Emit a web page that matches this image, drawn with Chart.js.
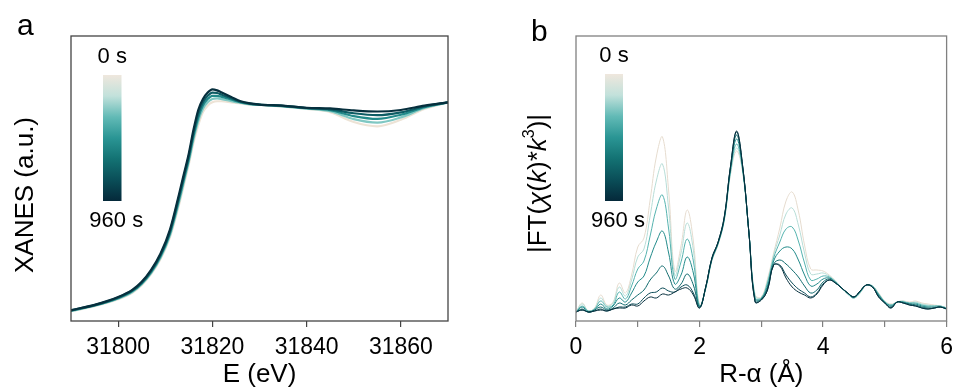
<!DOCTYPE html>
<html>
<head>
<meta charset="utf-8">
<script src="https://cdn.jsdelivr.net/npm/chart.js@4.4.1/dist/chart.umd.min.js"></script>
<style>
body{margin:0;background:#fff;width:960px;height:387px;overflow:hidden;position:relative;font-family:"Liberation Sans",Arial,sans-serif}
canvas{position:absolute;top:0}
#ca{left:0}
#cb{left:480px}
.lbl{position:absolute;font-size:30px;color:#000;line-height:1}
</style>
</head>
<body>
<canvas id="ca" width="480" height="387"></canvas>
<canvas id="cb" width="480" height="387"></canvas>
<div class="lbl" style="left:17px;top:10px">a</div>
<div class="lbl" style="left:531px;top:16px">b</div>
<script>
// legendas da barra de cor
var tempos = ['0 s', '960 s'];

// painel a - XANES
var energia = [31790, 31795, 31800, 31803, 31805, 31807, 31809, 31811, 31813, 31814, 31815, 31816, 31817, 31818, 31819,
    31820, 31821, 31822, 31824, 31826, 31828, 31830, 31835, 31840, 31845, 31850, 31855, 31860, 31865, 31870];
var xanes_0 = [0.045, 0.068, 0.100, 0.130, 0.165, 0.215, 0.285, 0.385, 0.540, 0.630, 0.720, 0.820, 0.900, 0.960, 0.990,
    1.005, 1.010, 1.010, 1.005, 1.000, 0.995, 0.993, 0.985, 0.975, 0.960, 0.915, 0.895, 0.925, 0.975, 1.005];
var xanes_240 = [0.046, 0.070, 0.103, 0.133, 0.169, 0.220, 0.291, 0.394, 0.553, 0.643, 0.733, 0.835, 0.918, 0.975, 1.005,
    1.020, 1.023, 1.020, 1.011, 1.003, 0.996, 0.994, 0.986, 0.976, 0.964, 0.928, 0.912, 0.936, 0.979, 1.005];
var xanes_480 = [0.048, 0.071, 0.105, 0.137, 0.173, 0.225, 0.298, 0.403, 0.565, 0.655, 0.745, 0.850, 0.935, 0.990, 1.020,
    1.035, 1.035, 1.030, 1.018, 1.005, 0.998, 0.994, 0.988, 0.978, 0.969, 0.942, 0.929, 0.948, 0.983, 1.005];
var xanes_720 = [0.049, 0.073, 0.108, 0.140, 0.176, 0.230, 0.304, 0.411, 0.578, 0.668, 0.758, 0.865, 0.953, 1.005, 1.035,
    1.050, 1.048, 1.040, 1.024, 1.008, 0.999, 0.995, 0.989, 0.979, 0.973, 0.955, 0.946, 0.959, 0.986, 1.005];
var xanes_960 = [0.050, 0.074, 0.110, 0.143, 0.180, 0.235, 0.310, 0.420, 0.590, 0.680, 0.770, 0.880, 0.970, 1.020, 1.050,
    1.065, 1.060, 1.050, 1.030, 1.010, 1.000, 0.995, 0.990, 0.980, 0.977, 0.968, 0.963, 0.970, 0.990, 1.005];
var ticks_e = [31800, 31820, 31840, 31860];

// painel b - FT
var raio = [0.0, 0.1, 0.2, 0.3, 0.4, 0.5, 0.6, 0.7, 0.8, 0.9,
    1.0, 1.1, 1.2, 1.3, 1.4, 1.5, 1.6, 1.7, 1.8, 1.9,
    2.0, 2.1, 2.2, 2.3, 2.4, 2.5, 2.6, 2.7, 2.8, 2.9,
    3.0, 3.1, 3.2, 3.3, 3.4, 3.5, 3.6, 3.7, 3.8, 3.9,
    4.0, 4.1, 4.2, 4.3, 4.4, 4.5, 4.6, 4.7, 4.8, 4.9,
    5.0, 5.1, 5.2, 5.3, 5.4, 5.5, 5.6, 5.7, 5.8, 5.9, 6.0];
var ft_0 = [0.9, 1.8, 1.0, 1.3, 2.6, 1.6, 1.9, 3.8, 2.8, 4.6,
    7.4, 8.3, 12.1, 16.4, 18.4, 13.0, 5.0, 7.5, 11.1, 8.0,
    1.6, 3.2, 6.0, 7.6, 10.0, 14.6, 17.0, 14.8, 8.8, 2.6,
    2.4, 4.2, 6.8, 9.3, 12.0, 12.9, 11.0, 7.6, 5.2, 5.1,
    5.0, 4.6, 4.0, 3.3, 2.7, 2.3, 2.8, 3.6, 3.5, 2.8,
    2.0, 1.7, 1.9, 2.0, 1.9, 2.0, 1.8, 1.7, 1.6, 1.5, 1.3];
var ft_160 = [0.9, 1.7, 1.0, 1.2, 2.3, 1.5, 1.8, 3.4, 2.5, 4.1,
    6.4, 7.2, 10.5, 14.0, 15.7, 11.2, 4.6, 6.8, 9.8, 7.1,
    1.5, 3.2, 6.1, 7.7, 10.1, 14.7, 17.3, 14.9, 8.8, 2.5,
    2.3, 4.0, 6.6, 8.6, 10.7, 11.3, 9.6, 6.8, 4.7, 4.7,
    4.8, 4.5, 4.0, 3.3, 2.7, 2.3, 2.8, 3.6, 3.5, 2.7,
    2.0, 1.6, 1.9, 2.0, 1.8, 1.9, 1.7, 1.6, 1.5, 1.5, 1.3];
var ft_320 = [0.9, 1.5, 1.0, 1.2, 2.0, 1.4, 1.6, 2.9, 2.2, 3.5,
    5.2, 6.0, 8.5, 11.2, 12.6, 9.2, 4.2, 5.9, 8.2, 6.0,
    1.5, 3.3, 6.1, 7.7, 10.1, 14.9, 17.7, 15.0, 8.8, 2.3,
    2.3, 3.8, 6.3, 7.9, 9.2, 9.4, 8.0, 5.8, 4.1, 4.2,
    4.5, 4.4, 3.9, 3.3, 2.7, 2.3, 2.9, 3.6, 3.5, 2.7,
    1.9, 1.6, 1.9, 1.9, 1.8, 1.8, 1.6, 1.5, 1.5, 1.5, 1.3];
var ft_480 = [0.9, 1.4, 0.9, 1.1, 1.7, 1.2, 1.5, 2.3, 1.9, 2.8,
    3.9, 4.5, 6.3, 7.9, 9.0, 6.8, 3.7, 4.6, 6.4, 4.8,
    1.4, 3.3, 6.2, 7.8, 10.2, 15.1, 18.2, 15.2, 8.8, 2.2,
    2.2, 3.5, 6.0, 7.0, 7.4, 7.2, 6.1, 4.6, 3.5, 3.7,
    4.2, 4.3, 3.9, 3.3, 2.8, 2.4, 2.9, 3.6, 3.4, 2.6,
    1.9, 1.5, 1.9, 1.9, 1.7, 1.7, 1.5, 1.4, 1.4, 1.4, 1.2];
var ft_640 = [0.9, 1.2, 0.9, 1.1, 1.4, 1.1, 1.3, 1.8, 1.6, 2.1,
    2.6, 3.1, 4.1, 4.8, 5.5, 4.5, 3.2, 3.7, 4.7, 3.6,
    1.4, 3.4, 6.2, 7.8, 10.3, 15.3, 18.6, 15.3, 8.8, 2.0,
    2.2, 3.3, 5.7, 6.1, 5.7, 5.1, 4.4, 3.5, 2.8, 3.1,
    3.9, 4.2, 3.8, 3.3, 2.8, 2.4, 3.0, 3.6, 3.4, 2.5,
    1.8, 1.4, 1.9, 1.8, 1.7, 1.6, 1.4, 1.3, 1.3, 1.4, 1.2];
var ft_800 = [0.9, 1.1, 0.9, 1.0, 1.2, 1.0, 1.2, 1.4, 1.4, 1.7,
    1.7, 2.3, 2.8, 2.9, 3.3, 3.0, 2.9, 3.4, 3.6, 2.8,
    1.3, 3.4, 6.3, 7.9, 10.4, 15.4, 18.9, 15.4, 8.8, 1.9,
    2.1, 3.1, 5.6, 5.6, 4.6, 3.8, 3.2, 2.8, 2.4, 2.8,
    3.7, 4.1, 3.8, 3.3, 2.8, 2.4, 3.0, 3.6, 3.4, 2.4,
    1.8, 1.3, 1.9, 1.8, 1.6, 1.5, 1.3, 1.2, 1.3, 1.4, 1.2];
var ft_960 = [0.9, 1.1, 0.9, 1.0, 1.1, 1.0, 1.2, 1.3, 1.3, 1.6,
    1.5, 2.0, 2.4, 2.3, 2.7, 2.6, 2.9, 3.2, 3.3, 2.6,
    1.3, 3.4, 6.3, 7.9, 10.4, 15.4, 19.0, 15.4, 8.8, 1.9,
    2.1, 3.1, 5.6, 5.5, 4.3, 3.4, 2.9, 2.6, 2.3, 2.7,
    3.6, 4.1, 3.8, 3.3, 2.8, 2.4, 3.0, 3.6, 3.4, 2.4,
    1.8, 1.3, 1.9, 1.8, 1.6, 1.5, 1.3, 1.2, 1.3, 1.4, 1.2];
var ticks_r = [0, 1, 2, 3, 4, 5, 6];

var paleta = ['#EFE7DD', '#C2E1DB', '#62BAB6', '#2A9594', '#137273', '#0A4E58', '#05293A'];
var fonte = '"Liberation Sans", Arial, sans-serif';

function pontos(xs, ys) {
    return xs.map((x, i) => ({ x: x, y: ys[i] }));
}

function caixa(cor) {
    return {
        id: 'caixa',
        afterDraw(chart) {
            let a = chart.chartArea, c = chart.ctx;
            c.save();
            c.strokeStyle = cor;
            c.lineWidth = 1.3;
            c.strokeRect(a.left, a.top, a.right - a.left, a.bottom - a.top);
            c.restore();
        }
    };
}

function barraCor(x, y, w, h) {
    return {
        id: 'barraCor',
        afterDraw(chart) {
            let c = chart.ctx;
            let g = c.createLinearGradient(0, y, 0, y + h);
            paleta.forEach((cor, i) => g.addColorStop(i / (paleta.length - 1), cor));
            c.save();
            c.fillStyle = g;
            c.fillRect(x, y, w, h);
            c.fillStyle = '#000';
            c.font = '22px ' + fonte;
            c.textAlign = 'center';
            c.textBaseline = 'alphabetic';
            c.fillText(tempos[0], x + w / 2, y - 12);
            c.fillText(tempos[1], x + w / 2 + 4, y + h + 26);
            c.restore();
        }
    };
}

// titulo do eixo y com partes em italico
function tituloY(partes, cx, cy) {
    return {
        id: 'tituloY',
        afterDraw(chart) {
            let c = chart.ctx;
            c.save();
            c.translate(cx, cy);
            c.rotate(-Math.PI / 2);
            c.fillStyle = '#000';
            c.textBaseline = 'middle';
            c.textAlign = 'left';
            let total = 0;
            partes.forEach(p => {
                c.font = (p.i ? 'italic ' : '') + (p.s ? 16 : 26) + 'px ' + fonte;
                p.w = c.measureText(p.t).width;
                total += p.w;
            });
            let px = -total / 2;
            partes.forEach(p => {
                c.font = (p.i ? 'italic ' : '') + (p.s ? 16 : 26) + 'px ' + fonte;
                c.fillText(p.t, px, p.s ? -9 : 0);
                px += p.w;
            });
            c.restore();
        }
    };
}

function eixoX(min, max, marcas, texto, rotulo, cor) {
    return {
        type: 'linear',
        min: min,
        max: max,
        afterBuildTicks: s => { s.ticks = marcas.map(v => ({ value: v })); },
        afterFit: s => { s.height = 66; },
        ticks: {
            callback: rotulo,
            color: '#000',
            font: { family: fonte, size: 23 },
            padding: 7,
            maxRotation: 0,
            autoSkip: false
        },
        grid: { drawOnChartArea: false, tickLength: 6, color: cor, lineWidth: 1.2 },
        border: { display: false },
        title: { display: true, text: texto, color: '#000', font: { family: fonte, size: 26, lineHeight: 0.9 }, padding: 0 }
    };
}

function eixoY(min, max, largura) {
    return {
        min: min,
        max: max,
        afterFit: s => { s.width = largura; },
        ticks: { display: false },
        grid: { display: false },
        border: { display: false }
    };
}

function linha(dados, cor, esp) {
    return {
        data: dados,
        borderColor: cor,
        borderWidth: esp,
        pointRadius: 0,
        fill: false
    };
}

var grafico_a = new Chart(document.getElementById('ca'), {
    type: 'line',
    data: {
        datasets: [
            linha(pontos(energia, xanes_960), '#062F3D', 2.2),
            linha(pontos(energia, xanes_720), '#0D5C64', 2.2),
            linha(pontos(energia, xanes_480), '#228A8A', 2.2),
            linha(pontos(energia, xanes_240), '#80C8C3', 2.2),
            linha(pontos(energia, xanes_0), '#EDE3D6', 2.2)
        ]
    },
    options: {
        responsive: false,
        animation: false,
        layout: { padding: { left: 0, right: 32, top: 36, bottom: 0 } },
        elements: { line: { cubicInterpolationMode: 'monotone' } },
        plugins: { legend: { display: false }, tooltip: { enabled: false } },
        scales: {
            x: eixoX(31790, 31870, ticks_e, 'E (eV)', v => String(v), '#444'),
            y: eixoY(0, 1.31, 71)
        }
    },
    plugins: [caixa('#444'), barraCor(103, 75, 18.5, 126), tituloY([{ t: 'XANES (a.u.)' }], 25.5, 195)]
});

var grafico_b = new Chart(document.getElementById('cb'), {
    type: 'line',
    data: {
        datasets: [
            linha(pontos(raio, ft_960), '#062F3D', 1),
            linha(pontos(raio, ft_800), '#0A4A56', 1),
            linha(pontos(raio, ft_640), '#106A6D', 1),
            linha(pontos(raio, ft_480), '#228A8A', 1),
            linha(pontos(raio, ft_320), '#55B3AF', 1),
            linha(pontos(raio, ft_160), '#B7DDD7', 1),
            linha(pontos(raio, ft_0), '#E6DCCF', 1)
        ]
    },
    options: {
        responsive: false,
        animation: false,
        layout: { padding: { left: 0, right: 7, top: 36, bottom: 0 } },
        elements: { line: { tension: 0.4 } },
        plugins: { legend: { display: false }, tooltip: { enabled: false } },
        scales: {
            x: eixoX(0, 6, ticks_r, 'R-α (Å)', v => (v % 2 === 0 ? String(v) : ''), '#808080'),
            y: eixoY(0, 28.5, 96)
        }
    },
    plugins: [caixa('#808080'), barraCor(125, 74, 18, 127),
        tituloY([{ t: '|FT(' }, { t: 'χ', i: true }, { t: '(' }, { t: 'k', i: true }, { t: ')*' },
            { t: 'k', i: true }, { t: '3', s: true }, { t: ')|' }], 58.5, 183.5)]
});
</script>
</body>
</html>
